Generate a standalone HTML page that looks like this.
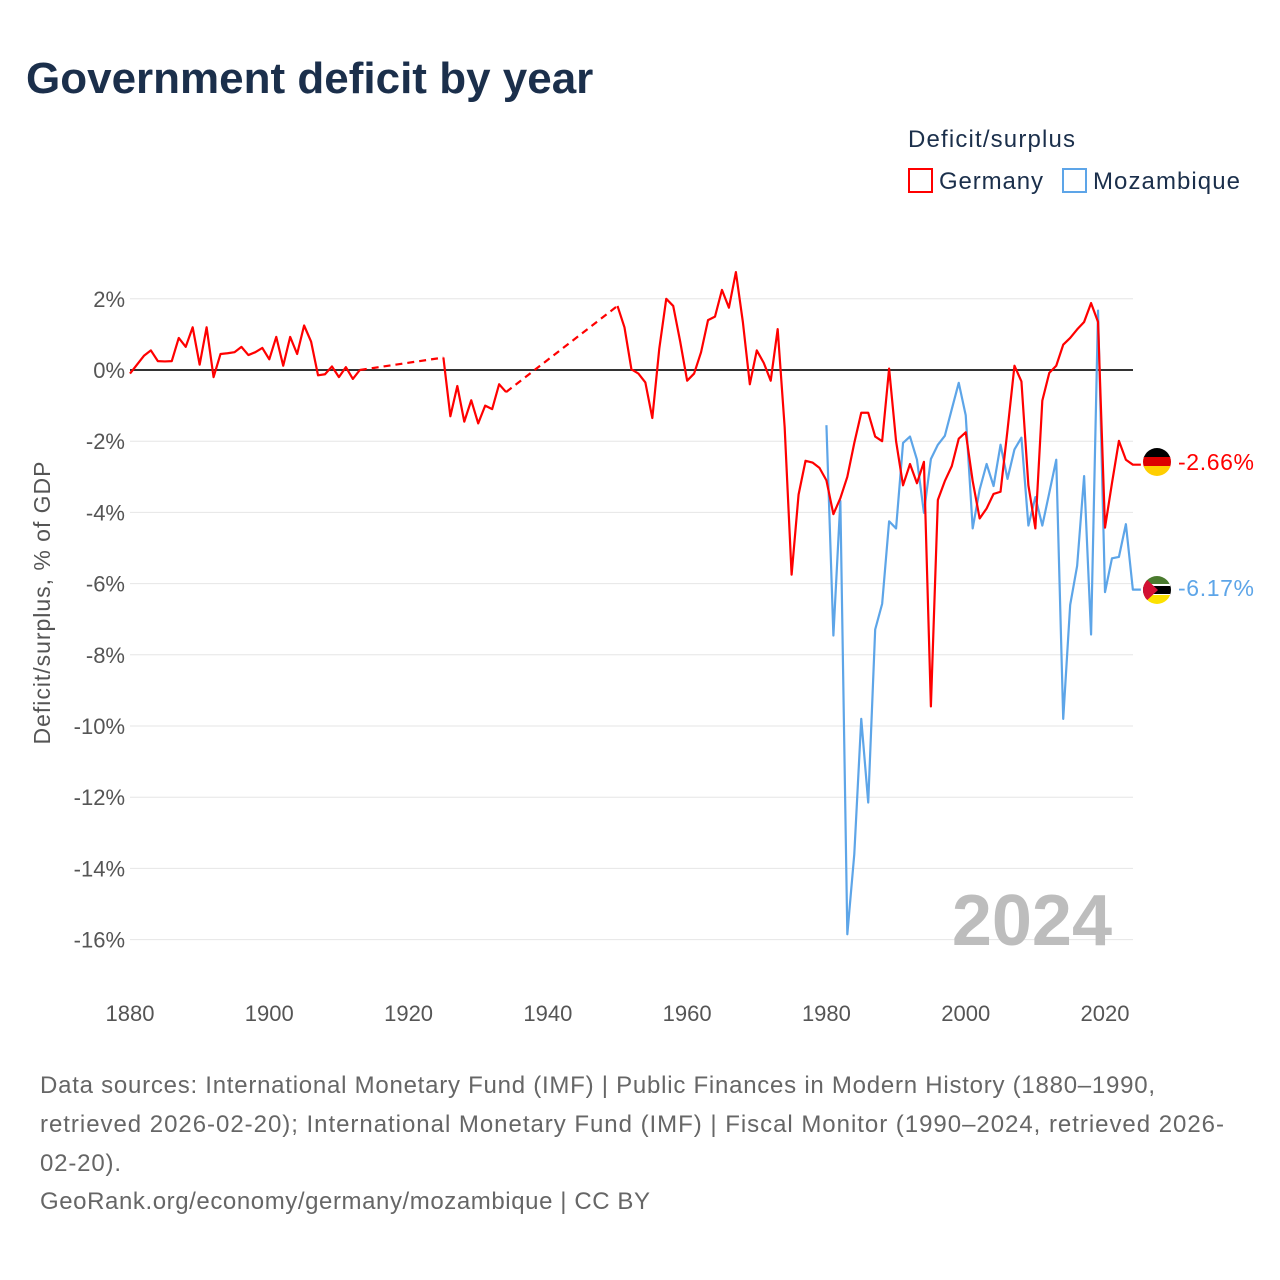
<!DOCTYPE html>
<html><head><meta charset="utf-8">
<style>
body{margin:0;background:#fff;font-family:"Liberation Sans",sans-serif;}
#wrap{position:relative;width:1280px;height:1280px;overflow:hidden;}
</style></head>
<body><div id="wrap">
<svg id="chart" width="1280" height="1280" xmlns="http://www.w3.org/2000/svg">
<text x="26" y="93" font-size="44" font-weight="bold" fill="#1b2f4b">Government deficit by year</text>
<g>
<text x="908" y="147" font-size="24" fill="#1b2f4b" textLength="167">Deficit/surplus</text>
<rect x="909" y="169" width="23" height="23" fill="none" stroke="#ff0000" stroke-width="2"/>
<text x="939" y="189" font-size="24" fill="#1b2f4b" textLength="104">Germany</text>
<rect x="1063" y="169" width="23" height="23" fill="none" stroke="#5da5e8" stroke-width="2"/>
<text x="1093" y="189" font-size="24" fill="#1b2f4b" textLength="147">Mozambique</text>
</g>
<g id="grid"></g>
<g id="yticks"></g>
<g id="xticks"></g>
<text transform="translate(50,603) rotate(-90)" text-anchor="middle" font-size="23" fill="#555" textLength="283">Deficit/surplus, % of GDP</text>
<text x="1112" y="945" text-anchor="end" font-size="72" font-weight="bold" fill="#bdbdbd">2024</text>
<line id="zero" x1="130" x2="1133" stroke="#333" stroke-width="2"/>
<g id="series"></g>
<g>
<clipPath id="cg"><circle cx="1157" cy="462" r="14"/></clipPath>
<g clip-path="url(#cg)"><rect x="1143" y="448" width="28" height="10" fill="#000"/><rect x="1143" y="457" width="28" height="10" fill="#dd0000"/><rect x="1143" y="466" width="28" height="10" fill="#ffce00"/></g>
</g>
<text x="1178" y="470" font-size="23" fill="#ff0000" textLength="76">-2.66%</text>
<g>
<clipPath id="cm"><circle cx="1157" cy="590" r="14"/></clipPath>
<g clip-path="url(#cm)"><rect x="1143" y="576" width="28" height="10" fill="#4a7a2e"/><rect x="1143" y="585" width="28" height="10" fill="#000"/><rect x="1143" y="584" width="28" height="2" fill="#fff"/><rect x="1143" y="594" width="28" height="2" fill="#fff"/><rect x="1143" y="595" width="28" height="10" fill="#fce100"/><polygon points="1143,576 1158,590 1143,604" fill="#d21034"/></g>
</g>
<text x="1178" y="596" font-size="23" fill="#5da5e8" textLength="76">-6.17%</text>
<g font-size="24" fill="#666">
<text x="40" y="1093" textLength="1115">Data sources: International Monetary Fund (IMF) | Public Finances in Modern History (1880–1990,</text>
<text x="40" y="1132" textLength="1184">retrieved 2026-02-20); International Monetary Fund (IMF) | Fiscal Monitor (1990–2024, retrieved 2026-</text>
<text x="40" y="1171" textLength="81">02-20).</text>
<text x="40" y="1209" textLength="610">GeoRank.org/economy/germany/mozambique | CC BY</text>
</g>
</svg>
<script>
const yTicks=[2,0,-2,-4,-6,-8,-10,-12,-14,-16];
const xTicks=[1880,1900,1920,1940,1960,1980,2000,2020];
const germanyStart=1880;
const germanyValues=[-0.1,0.15,0.4,0.55,0.25,0.24,0.25,0.9,0.65,1.2,0.15,1.2,-0.2,0.45,0.47,0.5,0.65,0.42,0.5,0.62,0.3,0.93,0.12,0.93,0.45,1.25,0.8,-0.15,-0.12,0.1,-0.2,0.08,-0.25,0,
null,null,null,null,null,null,null,null,null,null,null,
0.35,-1.3,-0.45,-1.45,-0.85,-1.5,-1.0,-1.1,-0.4,-0.62,
null,null,null,null,null,null,null,null,null,null,null,null,null,null,null,
1.8,1.2,0.02,-0.1,-0.35,-1.35,0.6,2.0,1.8,0.8,-0.3,-0.1,0.5,1.4,1.5,2.25,1.75,2.75,1.35,-0.4,0.55,0.2,-0.3,1.15,-1.6,-5.75,-3.5,-2.55,-2.6,-2.75,
-3.1,-4.05,-3.6,-3.0,-2.05,-1.2,-1.2,-1.87,-2.0,0.04,-2.0,-3.24,-2.64,-3.18,-2.58,-9.45,-3.65,-3.12,-2.7,-1.93,-1.75,-3.12,-4.17,-3.89,-3.48,-3.42,-1.69,0.12,-0.32,-3.24,-4.45,-0.86,-0.08,0.12,0.71,0.9,1.14,1.35,1.88,1.35,-4.43,-3.18,-1.99,-2.52,-2.66];
const mozStart=1980;
const mozValues=[-1.55,-7.46,-3.68,-15.85,-13.6,-9.8,-12.15,-7.29,-6.57,-4.25,-4.45,-2.05,-1.87,-2.52,-4.01,-2.5,-2.1,-1.85,-1.1,-0.36,-1.27,-4.45,-3.36,-2.64,-3.26,-2.1,-3.06,-2.23,-1.9,-4.37,-3.57,-4.37,-3.45,-2.52,-9.8,-6.6,-5.5,-2.98,-7.43,1.67,-6.24,-5.29,-5.25,-4.33,-6.17];
const NS='http://www.w3.org/2000/svg';
function xS(yr){return 130+(yr-1880)*(975/140);}
function yS(v){return 370-v*35.6;}
function mk(tag,attrs,parent){const e=document.createElementNS(NS,tag);for(const k in attrs)e.setAttribute(k,attrs[k]);parent.appendChild(e);return e;}
const grid=document.getElementById('grid'),yt=document.getElementById('yticks'),xt=document.getElementById('xticks');
yTicks.forEach(v=>{
 if(v!==0){const l=mk('line',{x1:130,x2:1133,y1:yS(v),y2:yS(v),stroke:'#e6e6e6','stroke-width':1},grid);
 
 }
 const t=mk('text',{x:125,y:yS(v)+8,'text-anchor':'end','font-size':22,fill:'#555'},yt);
 t.textContent=v+'%';
 
 
});
xTicks.forEach(yr=>{
 const t=mk('text',{x:xS(yr),y:1021,'text-anchor':'middle','font-size':22,fill:'#555'},xt);
 t.textContent=yr;
 
 
});
const z=document.getElementById('zero');z.setAttribute('y1',yS(0));z.setAttribute('y2',yS(0));
const ser=document.getElementById('series');
function drawSeries(start,vals,color,name){
 let solid='',dashed='',prev=null,gap=false;
 vals.forEach((v,i)=>{
  if(v===null){gap=true;return;}
  const x=xS(start+i),y=yS(v);
  if(prev&&gap){dashed+='M'+prev[0]+','+prev[1]+'L'+x+','+y;solid+='M'+x+','+y;}
  else if(!prev){solid+='M'+x+','+y;}
  else solid+='L'+x+','+y;
  prev=[x,y];gap=false;
 });
 solid+='L'+(prev[0]+8)+','+prev[1];
 const p=mk('path',{d:solid,fill:'none',stroke:color,'stroke-width':2.2,'stroke-linejoin':'round'},ser);
 
 
 if(dashed){const d=mk('path',{d:dashed,fill:'none',stroke:color,'stroke-width':2.2,'stroke-dasharray':'7,5'},ser);
 
 }
}
drawSeries(mozStart,mozValues,'#5da5e8','mozambique');
drawSeries(germanyStart,germanyValues,'#ff0000','germany');
</script>
</div></body></html>
